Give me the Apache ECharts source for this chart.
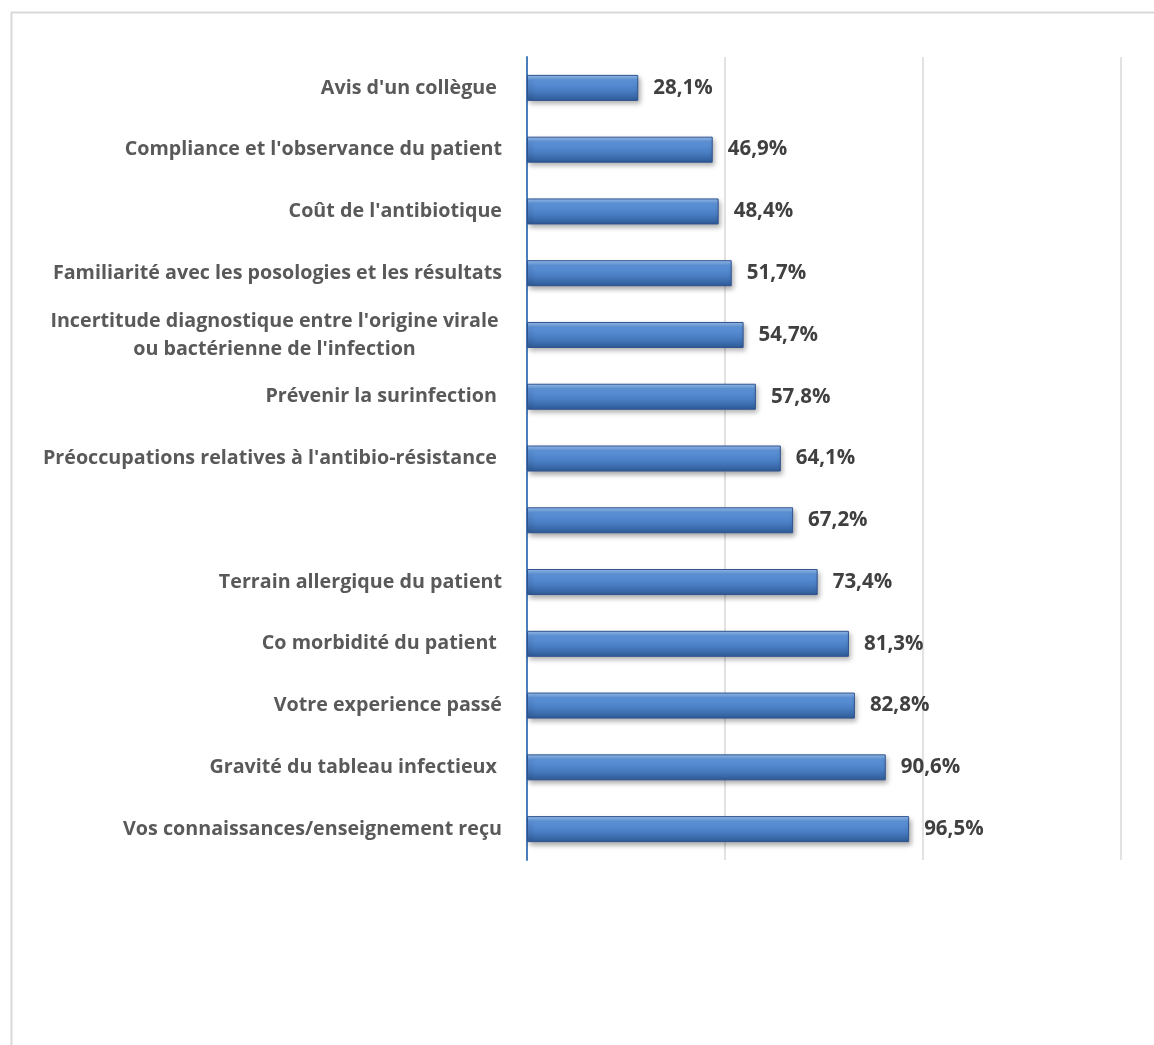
<!DOCTYPE html>
<html><head><meta charset="utf-8">
<script src="https://cdn.jsdelivr.net/npm/echarts@6/dist/echarts.min.js"></script>
<style>html,body{margin:0;padding:0;background:#fff}#c{width:1154px;height:1045px}</style>
</head><body><div id="c"></div>
<script>
const categories = [
  "Avis d'un collègue ",
  "Compliance et l'observance du patient",
  "Coût de l'antibiotique",
  "Familiarité avec les posologies et les résultats",
  "Incertitude diagnostique entre l'origine virale\nou bactérienne de l'infection",
  "Prévenir la surinfection ",
  "Préoccupations relatives à l'antibio-résistance ",
  "",
  "Terrain allergique du patient",
  "Co morbidité du patient ",
  "Votre experience passé",
  "Gravité du tableau infectieux ",
  "Vos connaissances/enseignement reçu"
];
const values = [28.1, 46.9, 48.4, 51.7, 54.7, 57.8, 64.1, 67.2, 73.4, 81.3, 82.8, 90.6, 96.5];
const xTicks = [0, 50, 100, 150];

const labelFont = { color: '#595959', fontFamily: 'Open Sans', fontWeight: 'bold', fontSize: 19.7, lineHeight: 28 };

const chart = echarts.init(document.getElementById('c'));
chart.setOption({
  animation: false,
  graphic: [{
    type: 'rect', left: 9, top: 10, silent: true,
    shape: { width: 1170, height: 1060 },
    style: { fill: 'none', stroke: '#D9D9D9', lineWidth: 2 }
  }],
  grid: { left: 527, right: 33, top: 57, bottom: 185, containLabel: false },
  xAxis: {
    type: 'value', min: xTicks[0], max: xTicks[xTicks.length - 1], interval: 50,
    axisLabel: { show: false }, axisTick: { show: false }, axisLine: { show: false },
    splitLine: { show: true, lineStyle: { color: '#D9D9D9', width: 1.5 } }
  },
  yAxis: {
    type: 'category', data: categories, inverse: true,
    axisTick: { show: false },
    axisLine: { show: true, lineStyle: { color: '#4A7EBB', width: 2 } },
    axisLabel: Object.assign({
      margin: 25, align: 'right',
      formatter: v => v.indexOf('\n') >= 0
        ? v.split('\n').map(s => '{c|' + s + '}').join('\n')
        : v,
      rich: { c: Object.assign({ width: 455, align: 'center' }, labelFont) }
    }, labelFont)
  },
  series: [{
    type: 'bar', data: values, barWidth: 26,
    itemStyle: {
      color: new echarts.graphic.LinearGradient(0, 0, 0, 1, [
        { offset: 0, color: '#9DC3F0' },
        { offset: 0.2, color: '#5E95DB' },
        { offset: 0.6, color: '#4A7EC4' },
        { offset: 1, color: '#2E5B96' }
      ]),
      borderColor: '#2F528F', borderWidth: 1,
      shadowColor: 'rgba(0,0,0,0.35)', shadowBlur: 5, shadowOffsetX: 2, shadowOffsetY: 3
    },
    label: {
      show: true, position: 'right', distance: 15,
      color: '#404040', fontFamily: 'Open Sans', fontWeight: 'bold', fontSize: 20.5,
      formatter: p => p.value.toFixed(1).replace('.', ',') + '%'
    }
  }]
});
</script></body></html>
